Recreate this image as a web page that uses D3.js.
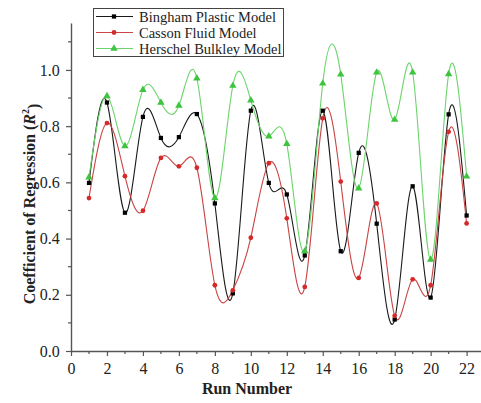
<!DOCTYPE html>
<html>
<head>
<meta charset="utf-8">
<script src="https://cdn.jsdelivr.net/npm/d3@7/dist/d3.min.js"></script>
<style>
  html, body { margin: 0; padding: 0; background: #fff; }
  svg { display: block; }
</style>
</head>
<body>
<svg id="chart" width="481" height="403"></svg>
<script>
// Run numbers and the R² obtained by each rheological model
const runs = d3.range(1, 23);
const bingham = [0.598, 0.884, 0.492, 0.833, 0.758, 0.761, 0.843, 0.525, 0.205, 0.855, 0.598,
                 0.557, 0.340, 0.855, 0.355, 0.705, 0.453, 0.112, 0.586, 0.190, 0.842, 0.482];
const casson = [0.544, 0.811, 0.622, 0.499, 0.687, 0.657, 0.652, 0.234, 0.216, 0.403, 0.668,
                0.472, 0.228, 0.828, 0.603, 0.260, 0.525, 0.125, 0.255, 0.234, 0.780, 0.454];
const herschel = [0.618, 0.907, 0.729, 0.929, 0.884, 0.873, 0.970, 0.544, 0.944, 0.892, 0.764,
                  0.737, 0.355, 0.952, 0.984, 0.579, 0.991, 0.823, 0.991, 0.325, 0.985, 0.621];

const xTicks = d3.range(0, 23, 2);
const yTicks = [0.0, 0.2, 0.4, 0.6, 0.8, 1.0];

const series = [
  { name: "Bingham Plastic Model", values: bingham, line: "#1a1a1a", fill: "#000000", shape: d3.symbolSquare },
  { name: "Casson Fluid Model", values: casson, line: "#c94444", fill: "#d62a2a", shape: d3.symbolCircle },
  { name: "Herschel Bulkley Model", values: herschel, line: "#6cd46c", fill: "#3ec43e", shape: d3.symbolTriangle }
];

const serif = "'Liberation Serif', 'DejaVu Serif', 'Times New Roman', Times, serif";
const svg = d3.select("#chart").attr("font-family", serif);
const axisColor = "#555";

const x = d3.scaleLinear().domain([0, 22.8]).range([71, 481]);
const y = d3.scaleLinear().domain([0, 1.167]).range([351, 23]);

// Axes
const xAxis = d3.axisBottom(x).tickValues(xTicks).tickFormat(d3.format("d")).tickSize(5).tickSizeOuter(0);
const gx = svg.append("g").attr("transform", `translate(0,${y(0)})`).call(xAxis);
gx.attr("font-family", serif);
gx.selectAll(".tick line").attr("stroke", axisColor).attr("stroke-width", 1.2);
gx.select(".domain").attr("stroke", axisColor).attr("stroke-width", 1.4);
gx.selectAll(".tick text").attr("font-size", 16).attr("fill", "#222").attr("dy", "0.95em");
gx.selectAll(".minor").data(d3.range(1, 23, 2)).enter().append("line")
  .attr("x1", d => x(d)).attr("x2", d => x(d)).attr("y1", 0).attr("y2", 3)
  .attr("stroke", axisColor).attr("stroke-width", 1.2);

const yAxis = d3.axisLeft(y).tickValues(yTicks).tickFormat(d3.format(".1f")).tickSize(5).tickSizeOuter(0);
const gy = svg.append("g").attr("transform", `translate(${x(0)},0)`).call(yAxis);
gy.attr("font-family", serif);
gy.selectAll(".tick line").attr("stroke", axisColor).attr("stroke-width", 1.2);
gy.select(".domain").attr("stroke", axisColor).attr("stroke-width", 1.4);
gy.selectAll(".tick text").attr("font-size", 16).attr("fill", "#222").attr("dx", "-0.2em");
gy.selectAll(".minor").data(d3.range(0.1, 1.15, 0.2)).enter().append("line")
  .attr("y1", d => y(d)).attr("y2", d => y(d)).attr("x1", 0).attr("x2", -3)
  .attr("stroke", axisColor).attr("stroke-width", 1.2);

// Axis titles
svg.append("text")
  .attr("x", 247).attr("y", 394)
  .attr("text-anchor", "middle").attr("font-weight", "bold").attr("font-size", 16)
  .attr("fill", "#222").text("Run Number");

const yTitle = svg.append("text")
  .attr("transform", "translate(35,204) rotate(-90)")
  .attr("text-anchor", "middle").attr("font-weight", "bold").attr("font-size", 16)
  .attr("fill", "#222");
yTitle.append("tspan").text("Coefficient of Regression (");
yTitle.append("tspan").attr("font-style", "italic").text("R");
yTitle.append("tspan").attr("font-size", 10).attr("dy", "-0.6em").text("2");
yTitle.append("tspan").attr("dy", "0.6em").text(")");

// Smoothed curves through the points
const line = d3.line()
  .x((d, i) => x(runs[i]))
  .y(d => y(d))
  .curve(d3.curveNatural);

series.forEach(s => {
  svg.append("path")
    .attr("d", line(s.values))
    .attr("fill", "none")
    .attr("stroke", s.line)
    .attr("stroke-width", 1.1);
});

// Markers
const markerSize = s => s.shape === d3.symbolTriangle ? 24 : 18;
series.forEach(s => {
  svg.append("g").selectAll("path").data(s.values).enter().append("path")
    .attr("transform", (d, i) => `translate(${x(runs[i])},${y(d)})`)
    .attr("d", d3.symbol().type(s.shape).size(markerSize(s)))
    .attr("fill", s.fill);
});

// Legend
const legend = svg.append("g");
legend.append("rect")
  .attr("x", 93.5).attr("y", 8.5).attr("width", 190).attr("height", 48)
  .attr("fill", "#fff").attr("stroke", "#444").attr("stroke-width", 1);
series.forEach((s, i) => {
  const cy = 16.5 + i * 16;
  legend.append("line")
    .attr("x1", 96).attr("x2", 133).attr("y1", cy).attr("y2", cy)
    .attr("stroke", s.line).attr("stroke-width", 1.1);
  legend.append("path")
    .attr("transform", `translate(114,${cy})`)
    .attr("d", d3.symbol().type(s.shape).size(markerSize(s)))
    .attr("fill", s.fill);
  legend.append("text")
    .attr("x", 139).attr("y", cy).attr("dy", "0.35em")
    .attr("font-size", 14.5).attr("fill", "#222").text(s.name);
});
</script>
</body>
</html>
